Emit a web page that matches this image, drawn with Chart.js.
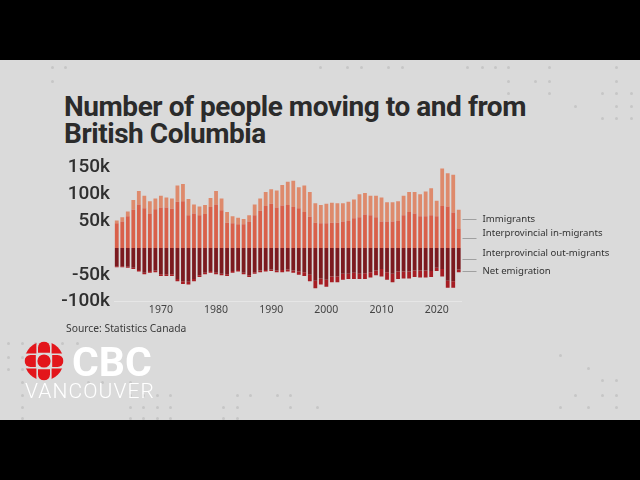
<!DOCTYPE html>
<html><head><meta charset="utf-8">
<script src="https://cdn.jsdelivr.net/npm/chart.js@4"></script>
<style>
html,body{margin:0;padding:0;}
body{width:640px;height:480px;background:#000;position:relative;overflow:hidden;font-family:Roboto,sans-serif;}
#panel{position:absolute;left:0;top:60px;width:640px;height:360px;background:#dadada;overflow:hidden;}
.abs{position:absolute;white-space:nowrap;}
.dot{position:absolute;width:3px;height:3px;border-radius:50%;background:#c6c6c6;}
#title{left:64px;top:94px;font:700 28px/26.5px Roboto;color:#2b2b2b;letter-spacing:-0.45px;}
#source{left:66px;top:322px;font:400 10.3px/12px "Noto Sans";color:#3a3a3a;}
#cbc{left:72px;top:342px;font:700 41px/40px Roboto;color:#fff;}
#van{left:25px;top:381px;font:300 21px/21px Roboto;color:#fff;letter-spacing:1.1px;}
#wrap{position:absolute;left:0;top:140px;width:640px;height:190px;}
</style></head>
<body>
<div id="panel"></div>
<div id="dots"></div>
<div class="abs" id="title">Number of people moving to and from<br>British Columbia</div>
<div id="wrap"><canvas id="c" width="640" height="190"></canvas></div>
<div class="abs" id="source">Source: Statistics Canada</div>
<svg class="abs" style="left:24px;top:341px" width="40" height="40" viewBox="-20 -20 40 40">
 <defs><clipPath id="gc"><circle r="19.5"/></clipPath></defs>
 <g fill="#e3151b" clip-path="url(#gc)">
  <circle r="6.6"/>
  <g id="ax"><path d="M-6,-8.2 L-6,-13.5 A6,6 0 0 1 6,-13.5 L6,-8.2 Z"/><path d="M7.6,-7.6 L7.6,-21 A13.4,13.4 0 0 1 21,-7.6 Z"/></g>
  <use href="#ax" transform="rotate(90)"/>
  <use href="#ax" transform="rotate(180)"/>
  <use href="#ax" transform="rotate(270)"/>
 </g>
</svg>
<div class="abs" id="cbc">CBC</div>
<div class="abs" id="van">VANCOUVER</div>
<script>
// ---- data (thousands of people) ----
const years = [1962,1963,1964,1965,1966,1967,1968,1969,1970,1971,1972,1973,1974,1975,1976,1977,
 1978,1979,1980,1981,1982,1983,1984,1985,1986,1987,1988,1989,1990,1991,1992,1993,
 1994,1995,1996,1997,1998,1999,2000,2001,2002,2003,2004,2005,2006,2007,2008,2009,
 2010,2011,2012,2013,2014,2015,2016,2017,2018,2019,2020,2021,2022,2023,2024];
const immigrants = [5,8,9,18,25,23,23,20,22,19,19,30,32,30,17,16,
 17,17,25,22,20,13,12,10,12,20,23,26,27,32,38,43,
 49,39,49,46,36,34,36,37,36,34,36,35,43,40,36,40,
 45,36,36,37,36,37,40,41,46,50,29,70,62,70,35];
const inMigrants = [46,49,59,71,81,74,64,72,75,75,73,86,87,61,64,61,
 63,76,81,70,47,46,44,44,49,61,69,78,82,75,79,80,
 76,74,67,58,47,46,46,47,47,49,50,55,57,62,61,57,
 49,49,49,50,61,67,64,59,59,61,59,78,77,66,36];
const outMigrants = [34,34,35,37,41,46,43,42,49,49,49,58,62,63,58,51,
 46,43,46,48,49,43,41,46,51,45,42,41,40,42,41,40,
 42,44,45,50,61,57,59,53,53,48,48,46,48,47,45,42,
 39,45,48,44,44,44,42,42,42,43,37,39,61,62,40];
const netEmigration = [2,2,2,2,3,3,3,3,3,3,3,4,5,5,4,3,
 3,3,3,3,3,3,3,3,3,3,3,3,3,3,4,4,
 4,6,7,12,14,11,13,11,11,11,10,12,10,11,10,9,
 14,14,16,14,13,13,12,13,13,11,6,14,13,12,5];
const yTicks = [-100,-50,0,50,100,150];
const seriesNames = ['Interprovincial in-migrants','Immigrants','Interprovincial out-migrants','Net emigration'];

// decorative background dots
const deco = [[52,67],[65,67],[52,81],[320,67],[347,67],[361,67],[388,67],[402,67],[467,67],[482,67],[495,67],[508,67],[549,67],[616,67],[508,81],[535,81],[549,81],[616,81],[508,93],[549,93],[575,106],[602,93],[616,93],[631,93],[602,118],[616,118],[631,118],[616,106],[631,106],
 [8,343],[22,343],[35,343],[62,343],[77,343],[8,357],[22,357],[8,369],[22,369],[22,382],[88,382],[102,382],[130,382],[22,395],[130,395],[143,395],[157,395],[170,395],[237,395],[250,395],[277,395],[290,395],[22,407],[130,407],[143,407],[157,407],[170,407],[223,407],[237,407],[290,407],[317,407],[22,418],[130,418],[143,418],[157,418],[170,418],[223,418],[237,418],
 [560,355],[588,368],[602,380],[616,380],[575,395],[602,395],[616,395],[560,407],[588,407],[616,407]];
const dotsEl = document.getElementById('dots');
deco.forEach(([x,y])=>{const d=document.createElement('div');d.className='dot';d.style.left=(x-1.5)+'px';d.style.top=(y-1.5)+'px';dotsEl.appendChild(d);});

const leaderPlugin = {
  id:'leaders',
  afterDatasetsDraw(chart){
    const ctx=chart.ctx, a=chart.chartArea;
    const order=[1,0,2,3];
    const dy=[0,-5,-5,0.5];
    ctx.save();
    ctx.font='9.6px "Noto Sans"';
    ctx.fillStyle='#333';ctx.strokeStyle='#a0a0a0';ctx.lineWidth=1;
    ctx.textBaseline='middle';ctx.textAlign='left';
    order.forEach((di,k)=>{
      const meta=chart.getDatasetMeta(di);
      const el=meta.data[meta.data.length-1];
      const y=(el.y+el.base)/2;
      const yy=Math.round(y)+0.5;
      ctx.beginPath();ctx.moveTo(a.right+1,yy);ctx.lineTo(a.right+15,yy);ctx.stroke();
      ctx.fillText(seriesNames[di],a.right+21,y+dy[k]);
    });
    ctx.restore();
  }
};

new Chart(document.getElementById('c'),{
  type:'bar',
  data:{labels:years,datasets:[
    {label:seriesNames[0],data:inMigrants.map(v=>v*1000),backgroundColor:'#d9604a'},
    {label:seriesNames[1],data:immigrants.map(v=>v*1000),backgroundColor:'#de8a6c'},
    {label:seriesNames[2],data:outMigrants.map(v=>-v*1000),backgroundColor:'#7b1a1f'},
    {label:seriesNames[3],data:netEmigration.map(v=>-v*1000),backgroundColor:'#a61d23'}
  ]},
  options:{
    responsive:false,animation:false,devicePixelRatio:1,
    datasets:{bar:{barPercentage:0.69,categoryPercentage:1,borderWidth:0}},
    plugins:{legend:{display:false},tooltip:{enabled:false}},
    layout:{padding:{left:0,right:178.5,top:27.3,bottom:8.3}},
    scales:{
      x:{stacked:true,grid:{display:false,drawTicks:false},border:{display:true,color:'#e6e6e6',width:1},
        ticks:{autoSkip:false,maxRotation:0,minRotation:0,padding:2,color:'#444',font:{family:'Noto Sans',size:10.5},
          callback(v,i){const y=years[i];return y%10===0?String(y):'';}},
        afterFit(s){s.height=20;}},
      y:{stacked:true,min:yTicks[0]*1000,max:yTicks[yTicks.length-1]*1000,grid:{display:false,drawTicks:false},border:{display:false},
        afterBuildTicks(s){s.ticks=yTicks.map(v=>({value:v*1000}));},
        ticks:{padding:4,color:'#2f2f2f',font:{family:'Roboto',size:19,weight:'500'},
          callback(v){return v===0?'':(v/1000)+'k';}},
        afterFit(s){s.width=114;}}
    }
  },
  plugins:[leaderPlugin]
});
</script>
</body></html>
